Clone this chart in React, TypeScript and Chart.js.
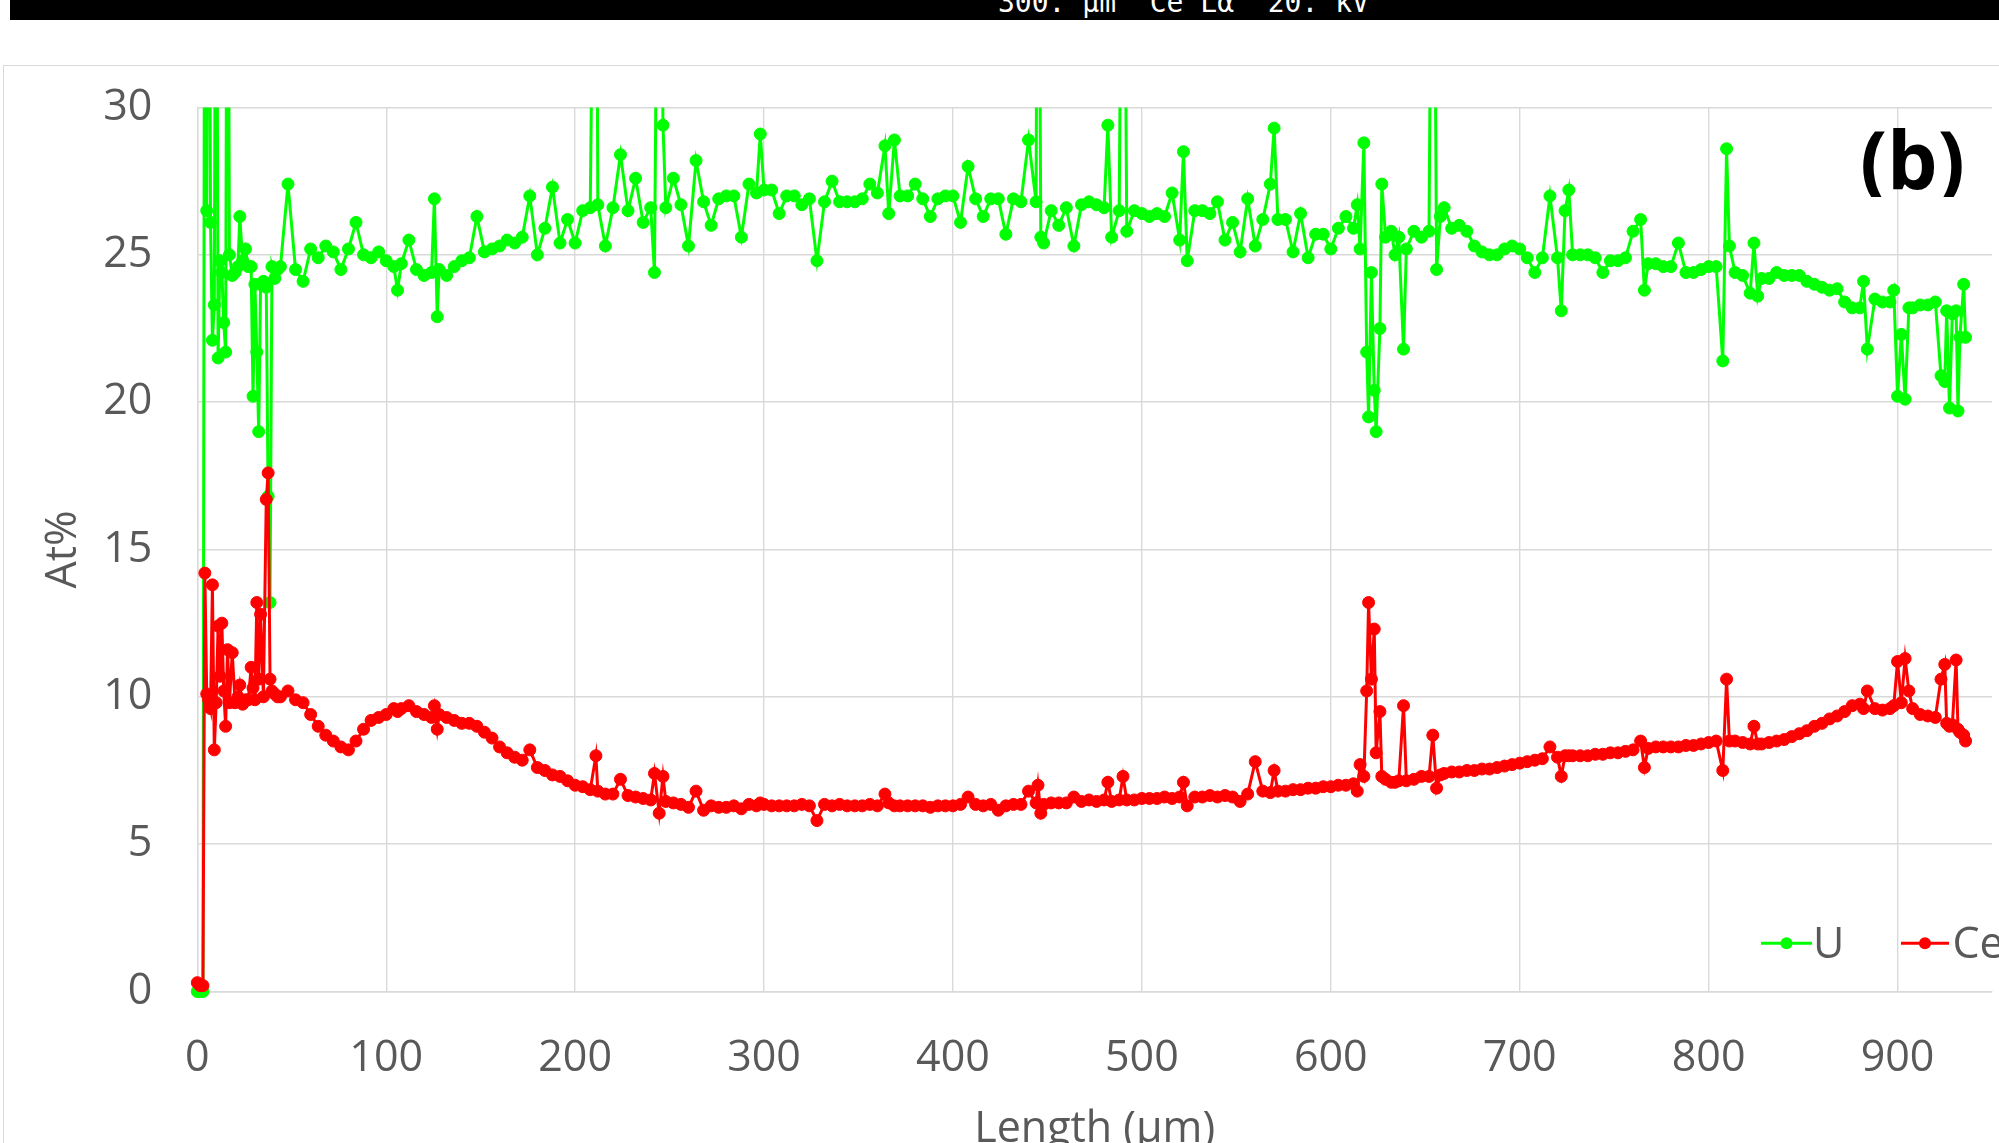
import React, { useEffect, useRef } from 'react';
import { Chart, registerables } from 'chart.js';

Chart.register(...registerables);

// Length along the line scan (µm)
const lengths = [
  0, 1.5, 3, 4, 5, 6, 7, 8, 9, 10,
  11, 12, 13, 14, 15, 16, 17, 18.5, 20, 21.5,
  22.5, 24, 25.5, 27, 28.5, 29.5, 30.5, 31.5, 32.5, 33.5,
  35, 36.5, 37.5, 38.5, 39.5, 41, 42.5, 44, 48, 52,
  56, 60, 64, 68, 72, 76, 80, 84, 88, 92,
  96, 100, 104, 106, 108, 112, 116, 120, 124, 125.5,
  127, 128, 132, 136, 140, 144, 148, 152, 156, 160,
  164, 168, 172, 176, 180, 184, 188, 192, 196, 200,
  204, 208, 211, 212, 216, 220, 224, 228, 232, 236,
  240, 242, 244.5, 246.5, 248, 252, 256, 260, 264, 268,
  272, 276, 280, 284, 288, 292, 296, 298, 300, 304,
  308, 312, 316, 320, 324, 328, 332, 336, 340, 344,
  348, 352, 356, 360, 364, 366, 369, 372, 376, 380,
  384, 388, 392, 396, 400, 404, 408, 412, 416, 420,
  424, 428, 432, 436, 440, 444, 445, 446.5, 448, 452,
  456, 460, 464, 468, 472, 476, 480, 482, 484, 488,
  490, 492, 496, 500, 504, 508, 512, 516, 520, 522,
  524, 528, 532, 536, 540, 544, 548, 552, 556, 560,
  564, 568, 570, 572, 576, 580, 584, 588, 592, 596,
  600, 604, 608, 612, 614, 615.5, 617.5, 619, 620, 621.5,
  623, 624, 626, 627, 629, 632, 634, 636, 638.5, 640,
  644, 648, 652, 654, 656, 658, 660, 664, 668, 672,
  676, 680, 684, 688, 692, 696, 700, 704, 708, 712,
  716, 720, 722, 724, 726, 728, 732, 736, 740, 744,
  748, 752, 756, 760, 764, 766, 768, 772, 776, 780,
  784, 788, 792, 796, 800, 804, 807.5, 809.5, 811, 814,
  818, 822, 824, 826, 828, 832, 836, 840, 844, 848,
  852, 856, 860, 864, 868, 872, 876, 880, 882, 884,
  888, 892, 896, 898, 900, 902, 904, 906, 908, 912,
  916, 920, 923, 925, 926, 927.5, 929, 931, 932, 933,
  935, 936,
];

// U (At%)
const uValues = [
  0, 0, 0, 45, 26.5, 45, 26.1, 22.1, 23.3, 45,
  21.5, 24.8, 24.4, 22.7, 21.7, 45, 25.0, 24.3, 24.4, 24.6,
  26.3, 24.8, 25.2, 24.6, 24.6, 20.2, 24.0, 21.7, 19.0, 24.0,
  24.1, 23.9, 16.8, 13.2, 24.6, 24.2, 24.5, 24.6, 27.4, 24.5,
  24.1, 25.2, 24.9, 25.3, 25.1, 24.5, 25.2, 26.1, 25.0, 24.9,
  25.1, 24.8, 24.6, 23.8, 24.7, 25.5, 24.5, 24.3, 24.4, 26.9,
  22.9, 24.5, 24.3, 24.6, 24.8, 24.9, 26.3, 25.1, 25.2, 25.3,
  25.5, 25.4, 25.6, 27.0, 25.0, 25.9, 27.3, 25.4, 26.2, 25.4,
  26.5, 26.6, 45, 26.7, 25.3, 26.6, 28.4, 26.5, 27.6, 26.1,
  26.6, 24.4, 45, 29.4, 26.6, 27.6, 26.7, 25.3, 28.2, 26.8,
  26.0, 26.9, 27.0, 27.0, 25.6, 27.4, 27.1, 29.1, 27.2, 27.2,
  26.4, 27.0, 27.0, 26.7, 26.9, 24.8, 26.8, 27.5, 26.8, 26.8,
  26.8, 26.9, 27.4, 27.1, 28.7, 26.4, 28.9, 27.0, 27.0, 27.4,
  26.9, 26.3, 26.9, 27.0, 27.0, 26.1, 28.0, 26.9, 26.3, 26.9,
  26.9, 25.7, 26.9, 26.8, 28.9, 26.8, 45, 25.6, 25.4, 26.5,
  26.0, 26.6, 25.3, 26.7, 26.8, 26.7, 26.6, 29.4, 25.6, 26.5,
  45, 25.8, 26.5, 26.4, 26.3, 26.4, 26.3, 27.1, 25.5, 28.5,
  24.8, 26.5, 26.5, 26.4, 26.8, 25.5, 26.1, 25.1, 26.9, 25.3,
  26.2, 27.4, 29.3, 26.2, 26.2, 25.1, 26.4, 24.9, 25.7, 25.7,
  25.2, 25.9, 26.3, 25.9, 26.7, 25.2, 28.8, 21.7, 19.5, 24.4,
  20.4, 19.0, 22.5, 27.4, 25.6, 25.8, 25.0, 25.6, 21.8, 25.2,
  25.8, 25.6, 25.8, 45, 24.5, 26.3, 26.6, 25.9, 26.0, 25.8,
  25.3, 25.1, 25.0, 25.0, 25.2, 25.3, 25.2, 24.9, 24.4, 24.9,
  27.0, 24.9, 23.1, 26.5, 27.2, 25.0, 25.0, 25.0, 24.9, 24.4,
  24.8, 24.8, 24.9, 25.8, 26.2, 23.8, 24.7, 24.7, 24.6, 24.6,
  25.4, 24.4, 24.4, 24.5, 24.6, 24.6, 21.4, 28.6, 25.3, 24.4,
  24.3, 23.7, 25.4, 23.6, 24.2, 24.2, 24.4, 24.3, 24.3, 24.3,
  24.1, 24.0, 23.9, 23.8, 23.85, 23.4, 23.2, 23.2, 24.1, 21.8,
  23.5, 23.4, 23.4, 23.8, 20.2, 22.3, 20.1, 23.2, 23.2, 23.3,
  23.3, 23.4, 20.9, 20.7, 23.1, 19.8, 23.0, 23.1, 19.7, 22.2,
  24.0, 22.2,
];

// Ce (At%)
const ceValues = [
  0.3, 0.2, 0.2, 14.2, 10.1, 9.9, 9.6, 13.8, 8.2, 9.8,
  12.4, 10.7, 12.5, 10.2, 9.0, 11.6, 9.8, 11.5, 9.8, 10.0,
  10.4, 9.75, 9.9, 9.9, 11.0, 10.3, 9.9, 13.2, 10.6, 12.8,
  10.0, 16.7, 17.6, 10.6, 10.2, 10.1, 10.0, 10.0, 10.2, 9.9,
  9.8, 9.4, 9.0, 8.7, 8.5, 8.3, 8.2, 8.5, 8.9, 9.2,
  9.3, 9.4, 9.6, 9.5, 9.6, 9.7, 9.5, 9.4, 9.3, 9.7,
  8.9, 9.4, 9.3, 9.2, 9.1, 9.1, 9.0, 8.8, 8.6, 8.3,
  8.1, 7.95, 7.85, 8.2, 7.6, 7.5, 7.35, 7.3, 7.15, 7.0,
  6.95, 6.85, 8.0, 6.8, 6.7, 6.7, 7.2, 6.65, 6.6, 6.55,
  6.5, 7.4, 6.05, 7.3, 6.45, 6.4, 6.35, 6.25, 6.8, 6.15,
  6.3, 6.25, 6.25, 6.3, 6.2, 6.35, 6.3, 6.4, 6.35, 6.3,
  6.3, 6.3, 6.3, 6.35, 6.3, 5.8, 6.35, 6.3, 6.35, 6.3,
  6.3, 6.3, 6.35, 6.3, 6.7, 6.4, 6.3, 6.3, 6.3, 6.3,
  6.3, 6.25, 6.3, 6.3, 6.3, 6.35, 6.6, 6.35, 6.3, 6.35,
  6.15, 6.3, 6.35, 6.35, 6.8, 6.4, 7.0, 6.05, 6.35, 6.4,
  6.4, 6.4, 6.6, 6.45, 6.5, 6.45, 6.5, 7.1, 6.45, 6.5,
  7.3, 6.5, 6.5, 6.55, 6.55, 6.55, 6.6, 6.55, 6.6, 7.1,
  6.3, 6.6, 6.6, 6.65, 6.6, 6.65, 6.6, 6.45, 6.7, 7.8,
  6.8, 6.75, 7.5, 6.8, 6.8, 6.85, 6.85, 6.9, 6.9, 6.95,
  6.95, 7.0, 7.0, 7.05, 6.8, 7.7, 7.3, 10.2, 13.2, 10.6,
  12.3, 8.1, 9.5, 7.3, 7.2, 7.1, 7.1, 7.15, 9.7, 7.15,
  7.2, 7.3, 7.3, 8.7, 6.9, 7.35, 7.4, 7.45, 7.45, 7.5,
  7.5, 7.55, 7.55, 7.6, 7.65, 7.7, 7.75, 7.8, 7.85, 7.9,
  8.3, 7.95, 7.3, 8.0, 8.0, 8.0, 8.0, 8.0, 8.05, 8.05,
  8.1, 8.1, 8.15, 8.2, 8.5, 7.6, 8.25, 8.3, 8.3, 8.3,
  8.3, 8.35, 8.35, 8.4, 8.45, 8.5, 7.5, 10.6, 8.5, 8.5,
  8.45, 8.4, 9.0, 8.4, 8.4, 8.45, 8.5, 8.55, 8.65, 8.75,
  8.85, 9.0, 9.1, 9.25, 9.35, 9.5, 9.7, 9.75, 9.6, 10.2,
  9.6, 9.55, 9.6, 9.7, 11.2, 9.8, 11.3, 10.2, 9.6, 9.4,
  9.35, 9.3, 10.6, 11.1, 9.1, 9.0, 9.05, 11.25, 8.9, 8.8,
  8.7, 8.5,
];

const xTickValues = [0, 100, 200, 300, 400, 500, 600, 700, 800, 900];
const seriesNames = ['U', 'Ce'];
const seriesColors = ['#00ff00', '#ff0000'];

const TEXT_COLOR = '#595959';
const GRID_COLOR = '#d9d9d9';
const FONT_FAMILY = "'Open Sans', 'Noto Sans', sans-serif";

const overlayPlugin = {
  id: 'overlayLegend',
  afterDraw(chart: any) {
    const ctx = chart.ctx as CanvasRenderingContext2D;
    const legend = [
      { from: 1761, to: 1812, text: 1813 },
      { from: 1901, to: 1949, text: 1952.5 },
    ];
    ctx.save();
    legend.forEach((l, i) => {
      const y = 943.3;
      ctx.strokeStyle = seriesColors[i];
      ctx.lineWidth = 3;
      ctx.beginPath();
      ctx.moveTo(l.from, y);
      ctx.lineTo(l.to, y);
      ctx.stroke();
      ctx.fillStyle = seriesColors[i];
      ctx.beginPath();
      ctx.arc((l.from + l.to) / 2, y, 6, 0, Math.PI * 2);
      ctx.fill();
      ctx.fillStyle = TEXT_COLOR;
      ctx.font = `43px ${FONT_FAMILY}`;
      ctx.textBaseline = 'alphabetic';
      ctx.textAlign = 'left';
      ctx.fillText(seriesNames[i], l.text, 958.3);
    });
    ctx.restore();

    // panel label "(b)"
    ctx.save();
    ctx.beginPath();
    ctx.rect(1800, 100, 199, 97);
    ctx.clip();
    ctx.fillStyle = '#000000';
    ctx.font = `bold 80px ${FONT_FAMILY}`;
    ctx.textBaseline = 'alphabetic';
    ctx.textAlign = 'left';
    ctx.fillText('(b)', 1860, 189);
    ctx.restore();
  },
};

export default function App() {
  const canvasRef = useRef<HTMLCanvasElement>(null);

  useEffect(() => {
    document.body.style.margin = '0';
    const canvas = canvasRef.current;
    if (!canvas) return;
    const tickFont = { family: FONT_FAMILY, size: 43 };
    const makeData = (vals: number[]) => lengths.map((x, i) => ({ x, y: vals[i] }));
    const common = {
      borderWidth: 3,
      pointRadius: 6,
      pointBorderWidth: 1,
      pointHoverRadius: 6,
      tension: 0,
      fill: false,
      clip: { left: 10, top: 0, right: 10, bottom: 10 },
    };
    const chart = new Chart(canvas, {
      type: 'line',
      data: {
        datasets: [
          {
            ...common,
            label: seriesNames[0],
            data: makeData(uValues),
            borderColor: seriesColors[0],
            backgroundColor: seriesColors[0],
            pointBackgroundColor: seriesColors[0],
            pointBorderColor: seriesColors[0],
            order: 1,
          } as any,
          {
            ...common,
            label: seriesNames[1],
            data: makeData(ceValues),
            borderColor: seriesColors[1],
            backgroundColor: seriesColors[1],
            pointBackgroundColor: seriesColors[1],
            pointBorderColor: seriesColors[1],
            order: 0,
          } as any,
        ],
      },
      options: {
        responsive: false,
        animation: false,
        events: [],
        layout: { padding: { top: 107.5, right: 7, left: 0, bottom: 0 } },
        plugins: {
          legend: { display: false },
          tooltip: { enabled: false },
          title: { display: false },
        },
        scales: {
          x: {
            type: 'linear',
            min: 0,
            max: 950,
            afterBuildTicks: (scale: any) => {
              scale.ticks = xTickValues.map((v) => ({ value: v }));
            },
            afterFit: (scale: any) => {
              scale.height = 208.5;
            },
            ticks: {
              padding: 41,
              font: tickFont,
              color: TEXT_COLOR,
              maxRotation: 0,
              autoSkip: false,
            },
            grid: { color: GRID_COLOR, lineWidth: 1.4, drawTicks: false },
            border: { color: GRID_COLOR, width: 1.4 },
            title: {
              display: true,
              text: 'Length (µm)',
              color: TEXT_COLOR,
              font: tickFont,
              padding: { top: 0, bottom: 44 },
            },
          },
          y: {
            type: 'linear',
            min: 0,
            max: 30,
            afterFit: (scale: any) => {
              scale.width = 197.3;
            },
            ticks: {
              stepSize: 5,
              padding: 45,
              font: tickFont,
              color: TEXT_COLOR,
            },
            grid: { color: GRID_COLOR, lineWidth: 1.4, drawTicks: false },
            border: { color: GRID_COLOR, width: 1.4 },
            title: {
              display: true,
              text: 'At%',
              color: TEXT_COLOR,
              font: tickFont,
              padding: { top: 38, bottom: 0 },
            },
          },
        },
      } as any,
      plugins: [overlayPlugin],
    });
    let alive = true;
    if ((document as any).fonts && (document as any).fonts.ready) {
      (document as any).fonts.ready.then(() => {
        if (alive) chart.update();
      });
    }
    return () => {
      alive = false;
      chart.destroy();
    };
  }, []);

  return (
    <div
      style={{
        position: 'absolute',
        left: 0,
        top: 0,
        width: 1999,
        height: 1143,
        overflow: 'hidden',
        background: '#ffffff',
      }}
    >
      <div
        style={{
          position: 'absolute',
          left: 10,
          top: 0,
          width: 1989,
          height: 20,
          background: '#000000',
          overflow: 'hidden',
        }}
      >
        <div
          style={{
            position: 'absolute',
            left: 988,
            top: -11,
            color: '#ffffff',
            fontFamily: "'DejaVu Sans Mono', monospace",
            fontSize: 28,
            lineHeight: '28px',
            whiteSpace: 'pre',
          }}
        >
          300. µm  Ce Lα  20. kV
        </div>
      </div>
      <div
        style={{
          position: 'absolute',
          left: 3,
          top: 65,
          width: 2100,
          height: 1200,
          borderLeft: '1.5px solid #d9d9d9',
          borderTop: '1.5px solid #d9d9d9',
        }}
      />
      <canvas
        ref={canvasRef}
        width={1999}
        height={1200}
        style={{ position: 'absolute', left: 0, top: 0, width: 1999, height: 1200 }}
      />
    </div>
  );
}
